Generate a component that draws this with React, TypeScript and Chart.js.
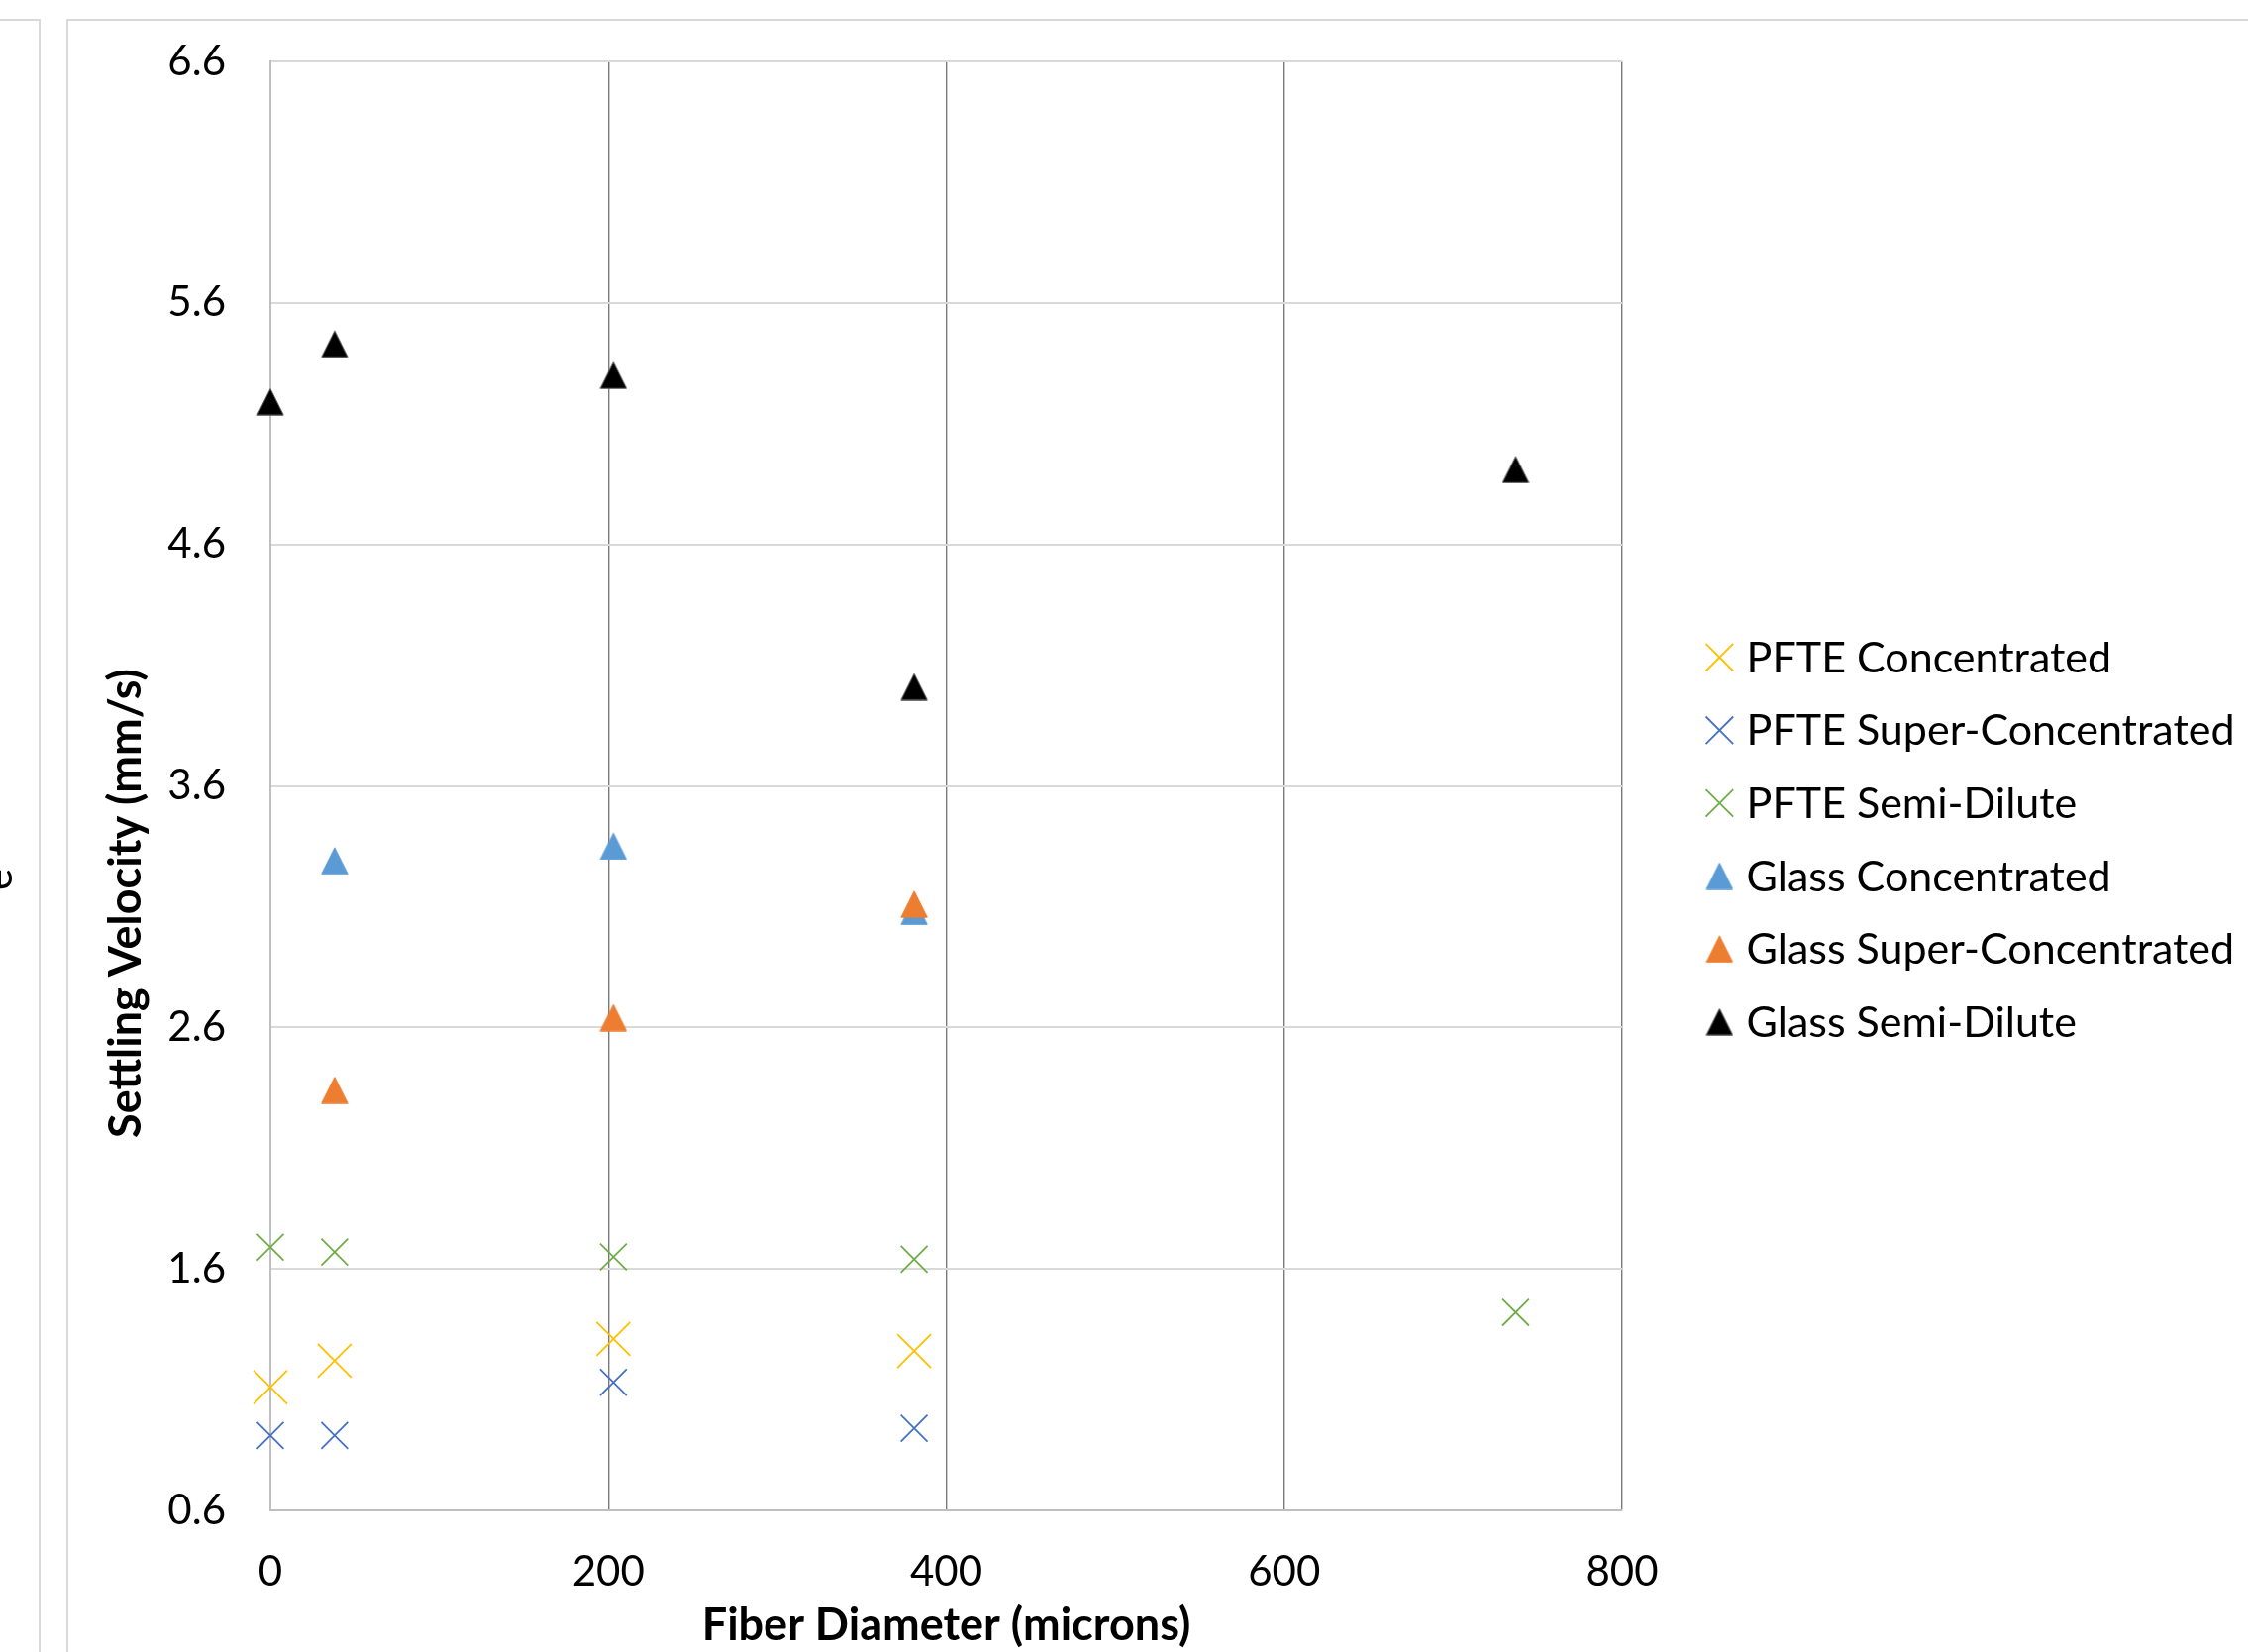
import React, { useEffect, useRef } from 'react';
import { Chart, registerables } from 'chart.js';

Chart.register(...registerables);

// ---------- data ----------
const xTickValues = [0, 200, 400, 600, 800];
const yTickLabels = ['0.6', '1.6', '2.6', '3.6', '4.6', '5.6', '6.6'];

const seriesNames = [
  'PFTE Concentrated',
  'PFTE Super-Concentrated',
  'PFTE Semi-Dilute',
  'Glass Concentrated',
  'Glass Super-Concentrated',
  'Glass Semi-Dilute',
];

const pfteConcentratedX = [0, 38, 203, 381];
const pfteConcentratedY = [1.11, 1.22, 1.31, 1.26];

const pfteSuperConcentratedX = [0, 38, 203, 381];
const pfteSuperConcentratedY = [0.91, 0.91, 1.13, 0.94];

const pfteSemiDiluteX = [0, 38, 203, 381, 737];
const pfteSemiDiluteY = [1.69, 1.67, 1.65, 1.64, 1.42];

const glassConcentratedX = [38, 203, 381];
const glassConcentratedY = [3.29, 3.35, 3.08];

const glassSuperConcentratedX = [38, 203, 381];
const glassSuperConcentratedY = [2.34, 2.64, 3.11];

const glassSemiDiluteX = [0, 38, 203, 381, 737];
const glassSemiDiluteY = [5.19, 5.43, 5.3, 4.01, 4.91];

const xTitle = 'Fiber Diameter (microns)';
const yTitle = 'Settling Velocity (mm/s)';
const clippedLetter = 'e';

// ---------- styles ----------
const W = 2270;
const H = 1668;
const PLOT_LEFT = 273;
const PLOT_RIGHT = 1638;
const PLOT_TOP = 62;
const PLOT_BOTTOM = 1525;
const FONT = 'Lato';

function pts(xs: number[], ys: number[]) {
  return xs.map((x, i) => ({ x, y: ys[i] }));
}

function makeTriangle(fill: string, stroke: string, size: number) {
  const c = document.createElement('canvas');
  c.width = size;
  c.height = size;
  const g = c.getContext('2d')!;
  g.beginPath();
  g.moveTo(size / 2, 0.8);
  g.lineTo(size - 0.8, size - 0.8);
  g.lineTo(0.8, size - 0.8);
  g.closePath();
  g.fillStyle = fill;
  g.fill();
  g.strokeStyle = stroke;
  g.lineWidth = 1;
  g.stroke();
  return c;
}

export default function App() {
  const ref = useRef<HTMLCanvasElement | null>(null);

  useEffect(() => {
    const canvas = ref.current;
    if (!canvas) return;

    const triBlue = makeTriangle('#5B9BD5', '#5B9BD5', 28);
    const triOrange = makeTriangle('#ED7D31', '#ED7D31', 28);
    const triBlack = makeTriangle('#000000', '#555555', 28);

    const cross = (label: string, color: string, r: number, data: any, order: number) => ({
      label,
      data,
      showLine: false,
      clip: false,
      pointStyle: 'crossRot',
      pointRadius: r,
      pointHoverRadius: r,
      pointBorderWidth: 1.8,
      pointHoverBorderWidth: 1.8,
      borderColor: color,
      backgroundColor: color,
      order,
    });
    const tri = (label: string, img: HTMLCanvasElement, color: string, data: any, order: number) => ({
      label,
      data,
      showLine: false,
      clip: false,
      pointStyle: img,
      pointRadius: 14,
      pointHoverRadius: 14,
      borderColor: color,
      backgroundColor: color,
      order,
    });

    const datasets = [
      cross(seriesNames[0], '#FFC000', 24, pts(pfteConcentratedX, pfteConcentratedY), 5),
      cross(seriesNames[1], '#4472C4', 19, pts(pfteSuperConcentratedX, pfteSuperConcentratedY), 4),
      cross(seriesNames[2], '#70AD47', 19, pts(pfteSemiDiluteX, pfteSemiDiluteY), 3),
      tri(seriesNames[3], triBlue, '#5B9BD5', pts(glassConcentratedX, glassConcentratedY), 2),
      tri(seriesNames[4], triOrange, '#ED7D31', pts(glassSuperConcentratedX, glassSuperConcentratedY), 1),
      tri(seriesNames[5], triBlack, '#000000', pts(glassSemiDiluteX, glassSemiDiluteY), 0),
    ];

    const decor = {
      id: 'decor',
      beforeDraw(chart: any) {
        const ctx = chart.ctx as CanvasRenderingContext2D;
        ctx.save();
        ctx.fillStyle = '#ffffff';
        ctx.fillRect(0, 0, chart.width, chart.height);
        ctx.strokeStyle = '#d9d9d9';
        ctx.lineWidth = 2;
        ctx.beginPath();
        ctx.moveTo(0, 20);
        ctx.lineTo(40, 20);
        ctx.lineTo(40, chart.height);
        ctx.moveTo(68, chart.height);
        ctx.lineTo(68, 20);
        ctx.lineTo(chart.width, 20);
        ctx.stroke();
        // clipped letter of neighbouring chart's axis title
        ctx.translate(12, 888);
        ctx.rotate(-Math.PI / 2);
        ctx.fillStyle = '#000';
        ctx.font = `42px ${FONT}`;
        ctx.textAlign = 'center';
        ctx.textBaseline = 'alphabetic';
        ctx.fillText(clippedLetter, 0, 0);
        ctx.restore();
      },
      afterDraw(chart: any) {
        const ctx = chart.ctx as CanvasRenderingContext2D;
        // y axis title
        ctx.save();
        ctx.translate(127, 912);
        ctx.rotate(-Math.PI / 2);
        ctx.fillStyle = '#000';
        ctx.font = `bold 45px ${FONT}`;
        ctx.textAlign = 'center';
        ctx.textBaseline = 'middle';
        ctx.fillText(yTitle, 0, 0);
        ctx.restore();

        // legend
        ctx.save();
        const dsets = chart.data.datasets;
        for (let i = 0; i < dsets.length; i++) {
          const ds = dsets[i];
          const cy = 663.7 + i * 73.6;
          const cx = 1736.4;
          if (typeof ds.pointStyle === 'string') {
            const h = 13.8;
            ctx.strokeStyle = ds.borderColor;
            ctx.lineWidth = 1.8;
            ctx.beginPath();
            ctx.moveTo(cx - h, cy - h);
            ctx.lineTo(cx + h, cy + h);
            ctx.moveTo(cx + h, cy - h);
            ctx.lineTo(cx - h, cy + h);
            ctx.stroke();
          } else {
            const img = ds.pointStyle as HTMLCanvasElement;
            ctx.drawImage(img, cx - img.width / 2, cy - img.height / 2);
          }
          ctx.fillStyle = '#000';
          ctx.font = `43px ${FONT}`;
          ctx.textAlign = 'left';
          ctx.textBaseline = 'alphabetic';
          ctx.fillText(ds.label, 1763.6, cy + 15);
        }
        ctx.restore();
      },
    };

    const chart = new Chart(canvas, {
      type: 'scatter',
      data: { datasets: datasets as any },
      plugins: [decor as any],
      options: {
        responsive: false,
        animation: false,
        devicePixelRatio: 1,
        events: [],
        layout: {
          padding: { left: 0, top: PLOT_TOP, right: W - PLOT_RIGHT, bottom: 0 },
        },
        plugins: {
          legend: { display: false },
          tooltip: { enabled: false },
          title: { display: false },
        },
        scales: {
          x: {
            type: 'linear',
            min: 0,
            max: 800,
            afterFit(scale: any) {
              scale.height = H - PLOT_BOTTOM;
              scale.paddingLeft = 0;
              scale.paddingRight = 0;
            },
            afterBuildTicks(scale: any) {
              scale.ticks = xTickValues.map((v) => ({ value: v }));
            },
            ticks: {
              padding: 37,
              color: '#000',
              font: { family: FONT, size: 42 },
              maxRotation: 0,
              callback: (v: any) => String(v),
            },
            grid: {
              drawTicks: false,
              color: (c: any) => (c.tick && c.tick.value === 0 ? 'rgba(0,0,0,0)' : '#7a7a7a'),
              lineWidth: 1.4,
            },
            border: { display: true, color: '#bfbfbf', width: 2 },
            title: {
              display: true,
              text: xTitle,
              color: '#000',
              font: { family: FONT, size: 45, weight: 'bold' },
              padding: { top: 0, bottom: 0 },
            },
          },
          y: {
            type: 'linear',
            min: 0.6,
            max: 6.6,
            afterFit(scale: any) {
              scale.width = PLOT_LEFT;
              scale.paddingTop = 0;
              scale.paddingBottom = 0;
            },
            afterBuildTicks(scale: any) {
              scale.ticks = yTickLabels.map((s) => ({ value: parseFloat(s) }));
            },
            ticks: {
              padding: 45,
              color: '#000',
              font: { family: FONT, size: 42 },
              callback: (v: any) => Number(v).toFixed(1),
            },
            grid: {
              drawTicks: false,
              color: '#d9d9d9',
              lineWidth: 2,
            },
            border: { display: true, color: '#bfbfbf', width: 2 },
          },
        },
      } as any,
    });

    let alive = true;
    if ((document as any).fonts && (document as any).fonts.ready) {
      (document as any).fonts.ready.then(() => {
        if (alive) chart.update();
      });
    }

    return () => {
      alive = false;
      chart.destroy();
    };
  }, []);

  return (
    <div style={{ position: 'absolute', left: 0, top: 0, width: W, height: H, overflow: 'hidden', background: '#fff' }}>
      <canvas ref={ref} width={W} height={H} style={{ display: 'block', width: W, height: H }} />
    </div>
  );
}
